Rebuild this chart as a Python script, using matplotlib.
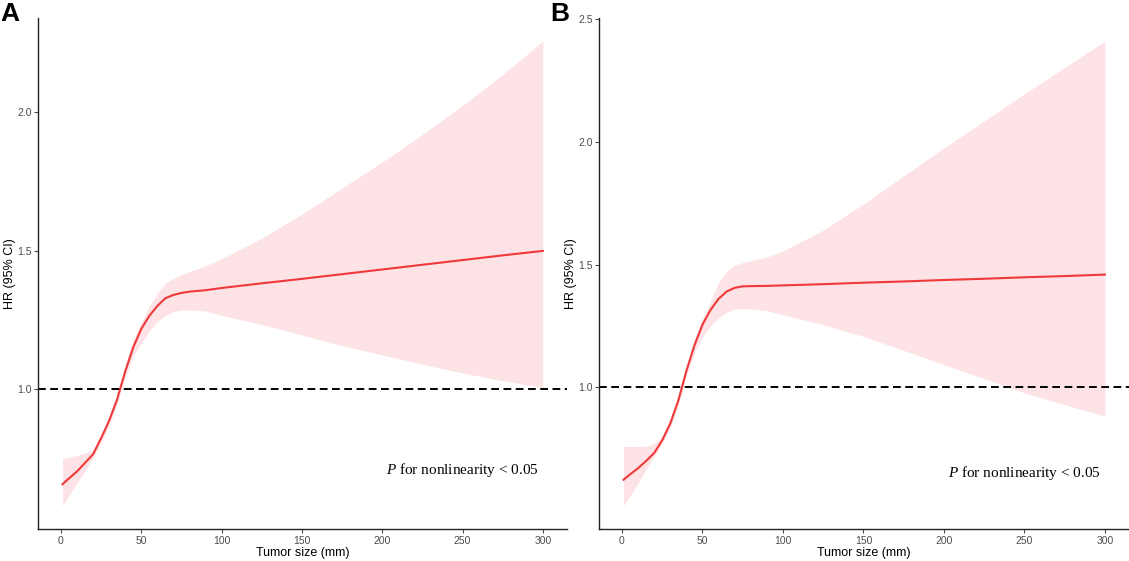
"""
Restricted cubic spline plots: HR (95% CI) by tumor size, panels A and B
"""

import matplotlib.pyplot as plt

# tumor size grid (mm)
size = [1, 5, 10, 15, 20, 25, 30, 35, 40, 45, 50, 55, 60, 65, 70, 75, 80,
        90, 100, 125, 150, 175, 200, 225, 250, 275, 300]

# panel A
hr_a = [0.656, 0.677, 0.702, 0.733, 0.764, 0.822, 0.885, 0.963, 1.063, 1.150,
        1.217, 1.264, 1.300, 1.328, 1.340, 1.347, 1.352, 1.357, 1.365, 1.382,
        1.398, 1.415, 1.432, 1.449, 1.466, 1.483, 1.499]
lo_a = [0.578, 0.615, 0.660, 0.705, 0.750, 0.805, 0.870, 0.945, 1.040, 1.120,
        1.165, 1.210, 1.243, 1.266, 1.280, 1.285, 1.286, 1.282, 1.266, 1.233,
        1.195, 1.157, 1.123, 1.090, 1.058, 1.030, 1.005]
hi_a = [0.749, 0.754, 0.760, 0.768, 0.780, 0.835, 0.900, 0.980, 1.085, 1.180,
        1.240, 1.300, 1.345, 1.382, 1.400, 1.413, 1.424, 1.445, 1.470, 1.545,
        1.632, 1.726, 1.820, 1.920, 2.024, 2.137, 2.257]

# panel B
hr_b = [0.623, 0.645, 0.670, 0.700, 0.732, 0.784, 0.852, 0.946, 1.066, 1.170,
        1.255, 1.315, 1.360, 1.390, 1.405, 1.411, 1.412, 1.413, 1.415, 1.420,
        1.426, 1.431, 1.437, 1.442, 1.448, 1.453, 1.459]
lo_b = [0.517, 0.556, 0.610, 0.664, 0.718, 0.770, 0.835, 0.925, 1.045, 1.140,
        1.205, 1.250, 1.283, 1.305, 1.318, 1.320, 1.319, 1.312, 1.295, 1.255,
        1.207, 1.150, 1.092, 1.035, 0.977, 0.929, 0.882]
hi_b = [0.759, 0.759, 0.759, 0.759, 0.772, 0.800, 0.868, 0.962, 1.085, 1.195,
        1.280, 1.350, 1.426, 1.470, 1.497, 1.508, 1.515, 1.530, 1.556, 1.640,
        1.746, 1.861, 1.975, 2.085, 2.195, 2.303, 2.410]

panels = [
    ('A', hr_a, lo_a, hi_a, [1.0, 1.5, 2.0], 0.707),
    ('B', hr_b, lo_b, hi_b, [1.0, 1.5, 2.0, 2.5], 0.652),
]

plt.rcParams['font.family'] = ['Liberation Sans', 'DejaVu Sans']
plt.rcParams['mathtext.fontset'] = 'custom'
plt.rcParams['mathtext.rm'] = 'Liberation Serif'
plt.rcParams['mathtext.it'] = 'Liberation Serif:italic'

fig = plt.figure(figsize=(11.29, 5.61), dpi=100)
positions = [[0.0341, 0.057, 0.468, 0.911], [0.5310, 0.057, 0.469, 0.911]]
letter_x = [0.0, 0.487]

for (tag, hr, lo, hi, yticks, txt_y), pos, lx in zip(panels, positions, letter_x):
    ax = fig.add_axes(pos)
    ax.fill_between(size, lo, hi, color='#FDE3E5', linewidth=0)
    ax.plot(size, hr, color='#F0393B', linewidth=1.5)
    ax.axhline(1.0, color='black', linewidth=1.4, linestyle=(0, (4, 2.3)))

    # ggplot-like 5% expansion
    xr = max(size) - min(size)
    ax.set_xlim(min(size) - 0.05 * xr, max(size) + 0.05 * xr)
    yr = max(hi) - min(lo)
    ax.set_ylim(min(lo) - 0.05 * yr, max(hi) + 0.05 * yr)

    ax.set_xticks([0, 50, 100, 150, 200, 250, 300])
    ax.set_yticks(yticks)
    ax.set_yticklabels(['{0:.1f}'.format(t) for t in yticks])
    ax.tick_params(colors='#4D4D4D', labelsize=7.5, length=3, width=0.8, pad=2)

    for side in ['top', 'right']:
        ax.spines[side].set_visible(False)
    for side in ['left', 'bottom']:
        ax.spines[side].set_color('#222222')
        ax.spines[side].set_linewidth(1.0)

    ax.set_xlabel('Tumor size (mm)', fontsize=9, labelpad=1)
    ax.set_ylabel('HR (95% CI)', fontsize=9, labelpad=1)

    ax.text(250, txt_y, r'$\mathit{P}$ for nonlinearity < 0.05', ha='center', va='center',
            fontsize=11, family='Liberation Serif')

    fig.text(lx, 0.997, tag, ha='left', va='top', fontsize=19, fontweight='bold')

fig.savefig('out.png', dpi=100)
